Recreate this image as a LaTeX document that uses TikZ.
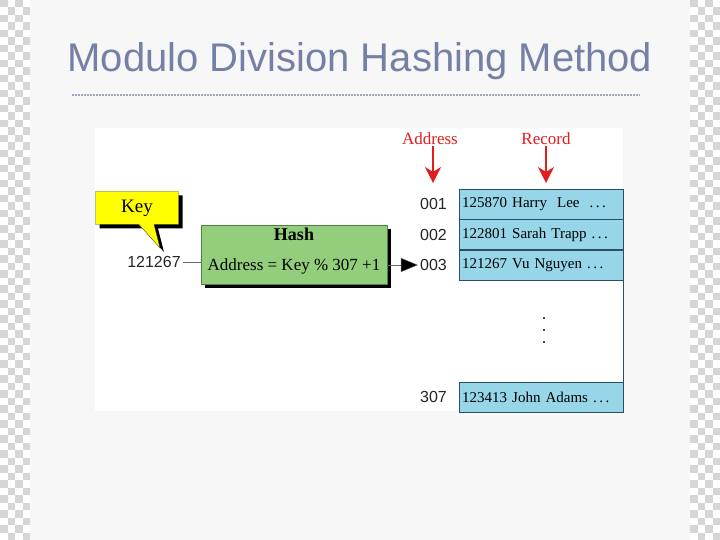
\documentclass[tikz,border=0pt]{standalone}
\usepackage{fontspec}
\setmainfont{Liberation Serif}
\newfontfamily\sansnum{Liberation Sans}
\usepackage{tikz}
\usetikzlibrary{positioning,arrows.meta,shapes.callouts,shadows}
\definecolor{slidebg}{RGB}{247,247,247}
\definecolor{checker}{RGB}{214,214,214}
\definecolor{titleblue}{RGB}{118,128,166}
\definecolor{keyyellow}{RGB}{255,255,0}
\definecolor{hashgreen}{RGB}{146,206,124}
\definecolor{hashedge}{RGB}{80,130,70}
\definecolor{recblue}{RGB}{150,214,232}
\definecolor{recedge}{RGB}{40,80,95}
\definecolor{labelred}{RGB}{225,30,30}

\begin{document}
\begin{tikzpicture}[x=1pt, y=-1pt, >=Stealth,
  record/.style={draw=recedge, fill=recblue, minimum width=164pt, minimum height=30pt,
    text width=158pt, inner sep=3pt, align=left, anchor=north west,
    font=\fontsize{15}{15}\selectfont},
  addr/.style={inner sep=2pt, text=black!85, font=\sansnum\fontsize{16}{16}\selectfont},
  redlabel/.style={text=labelred, inner sep=1pt, font=\fontsize{17}{17}\selectfont},
  redarrow/.style={draw=labelred, line width=1.2pt, -{Stealth[length=16pt, width=16pt, inset=5pt]}},
  blackshadow/.style={drop shadow={shadow xshift=4pt, shadow yshift=-4pt, fill=black, opacity=1}},
  ]
  \useasboundingbox (0,0) rectangle (720,540);

  % Slide background
  \fill[slidebg] (0,0) rectangle (720,540);
  \fill[white] (0,0) rectangle (30,540);
  \fill[white] (690,0) rectangle (720,540);
  \foreach \j in {0,...,71}{
    \pgfmathtruncatemacro{\sh}{mod(\j,2)}
    \foreach \i in {0,2}{
      \fill[checker] ({(\i+\sh)*7.5},{\j*7.5}) rectangle ++(7.5,7.5);
      \fill[checker] ({690+(\i+\sh)*7.5},{\j*7.5}) rectangle ++(7.5,7.5);
    }
  }

  % Title
  \node[text=titleblue, font=\sansnum\fontsize{40}{40}\selectfont] (title) at (360,61)
    {Modulo Division Hashing Method};
  \draw[titleblue!70, line width=2pt, dash pattern=on 2pt off 1pt] (72,95) -- (640,95);

  % Figure panel
  \fill[white] (95,128) rectangle (623,411);

  % Records
  \node[record] (r1) at (459,189) {\mbox{125870 Harry\ \ Lee\ \ .\,.\,.}};
  \node[record, below=0pt of r1] (r2) {\mbox{122801 Sarah Trapp .\,.\,.}};
  \node[record, below=0pt of r2] (r3) {\mbox{121267 Vu Nguyen .\,.\,.}};
  \node[record] (rn) at (459,382) {\mbox{123413 John Adams .\,.\,.}};
  \draw[recedge] (r3.south east) -- (rn.north east);
  \fill (544,318) circle (1.2) (544,330) circle (1.2) (544,342) circle (1.2);

  % Addresses
  \node[addr, left=10pt of r1] (a1) {001};
  \node[addr, left=10pt of r2] (a2) {002};
  \node[addr, left=10pt of r3] (a3) {003};
  \node[addr, left=10pt of rn] (an) {307};

  % Column headings
  \node[redlabel] (lbladdr) at (430,139) {Address};
  \node[redlabel] (lblrec) at (546,139) {Record};
  \coordinate (tipaddr) at (433,183);
  \coordinate (tiprec) at (546,183);
  \draw[redarrow] (lbladdr.south -| tipaddr) -- (tipaddr);
  \draw[redarrow] (lblrec.south) -- (tiprec);

  % Hash box
  \node[draw=hashedge, fill=hashgreen, blackshadow, minimum width=186pt, minimum height=59pt]
    (hash) at (294,254.5) {};
  \node[below=2pt of hash.north, inner sep=1pt, font=\bfseries\fontsize{18}{18}\selectfont]
    (hashtitle) {Hash};
  \node[above=9pt of hash.south, inner sep=1pt, font=\fontsize{17}{17}\selectfont]
    (formula) {Address = Key \% 307 +1};

  % Key
  \node[addr] (keyval) at (154,262) {121267};
  \draw[black!60] (keyval.east) -- (keyval.east -| hash.west);
  \node[rectangle callout, draw=black!70, fill=keyyellow, blackshadow,
    minimum width=83pt, minimum height=33pt, callout pointer width=15pt,
    callout absolute pointer={(160,248)}, font=\fontsize{19}{19}\selectfont]
    (key) at (137,208) {Key};
  \draw[black!60, -{Triangle[length=17pt, width=14pt, fill=black]}]
    (hash.east |- a3) -- (a3.west);
\end{tikzpicture}
\end{document}
